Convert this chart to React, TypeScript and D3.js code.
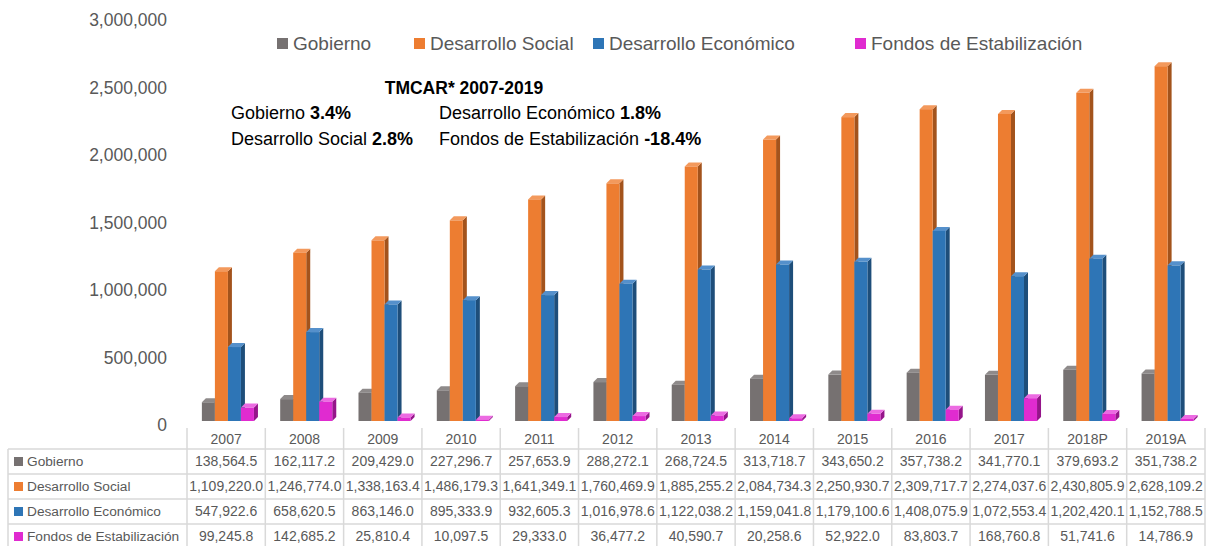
import React from "react";
import * as d3 from "d3";

const categories = ["2007","2008","2009","2010","2011","2012","2013","2014","2015","2016","2017","2018P","2019A"];
const seriesNames = ["Gobierno","Desarrollo Social","Desarrollo Económico","Fondos de Estabilización"];
const gobierno = [138564.5,162117.2,209429.0,227296.7,257653.9,288272.1,268724.5,313718.7,343650.2,357738.2,341770.1,379693.2,351738.2];
const desarrolloSocial = [1109220.0,1246774.0,1338163.4,1486179.3,1641349.1,1760469.9,1885255.2,2084734.3,2250930.7,2309717.7,2274037.6,2430805.9,2628109.2];
const desarrolloEconomico = [547922.6,658620.5,863146.0,895333.9,932605.3,1016978.6,1122038.2,1159041.8,1179100.6,1408075.9,1072553.4,1202420.1,1152788.5];
const fondos = [99245.8,142685.2,25810.4,10097.5,29333.0,36477.2,40590.7,20258.6,52922.0,83803.7,168760.8,51741.6,14786.9];
const yTicks = [0,500000,1000000,1500000,2000000,2500000,3000000];
const growthLabels = ["3.4%","2.8%","1.8%","-18.4%"];

const front = ["#767171","#ED7D31","#2E75B6","#E02BD0"];
const side = ["#4F4B4B","#A3531C","#1E4E7A","#95158A"];
const top = ["#8E8A8A","#F3995C","#5590CB","#EC6BE2"];

const W = 1207, H = 546;
const FONT = "'Liberation Sans', Arial, sans-serif";
const TXT = "#595959";
const GRID = "#D9D9D9";

export default function App() {
  const allSeries = [gobierno, desarrolloSocial, desarrolloEconomico, fondos];
  const x = d3.scaleBand<string>().domain(categories).range([187, 1205]).padding(0);
  const bw = x.bandwidth();
  const xs = d3.scaleBand<number>().domain([0,1,2,3]).range([bw * 0.19, bw * 0.855]).padding(0);
  const y = d3.scaleLinear().domain([0, 3000000]).range([425, 20]);
  const dx = 4, dy = 4;
  const fmtAxis = d3.format(",");
  const fmtVal = d3.format(",.1f");

  const rowTop = 449, rowH = 25;
  const tableLeft = 8, tableRight = 1205;

  const bars: React.ReactNode[] = [];
  categories.forEach((c, ci) => {
    allSeries.forEach((s, si) => {
      const v = s[ci];
      const x0 = (x(c) as number) + (xs(si) as number);
      const w = xs.bandwidth();
      const base = y(0) - dy;
      const yt = y(v) - dy;
      bars.push(
        <g key={c + si}>
          <polygon points={`${x0 + w},${yt} ${x0 + w + dx},${yt - dy} ${x0 + w + dx},${base - dy} ${x0 + w},${base}`} fill={side[si]} />
          <polygon points={`${x0},${yt} ${x0 + dx},${yt - dy} ${x0 + w + dx},${yt - dy} ${x0 + w},${yt}`} fill={top[si]} />
          <rect x={x0} y={yt} width={w} height={Math.max(0, base - yt)} fill={front[si]} />
        </g>
      );
    });
  });

  const legendItems = [
    { name: seriesNames[0], x: 277 },
    { name: seriesNames[1], x: 414 },
    { name: seriesNames[2], x: 593 },
    { name: seriesNames[3], x: 855 },
  ];

  return (
    <svg width={W} height={H} style={{ position: "absolute", left: 0, top: 0, background: "#fff" }} fontFamily={FONT}>
      {/* y axis labels */}
      {yTicks.map((t) => (
        <text key={t} x={167} y={y(t)} dy="0.35em" textAnchor="end" fontSize={17.5} fill={TXT}>
          {fmtAxis(t)}
        </text>
      ))}

      {/* legend */}
      {legendItems.map((li, i) => (
        <g key={li.name}>
          <rect x={li.x} y={38} width={11} height={11} fill={front[i]} />
          <text x={li.x + 16} y={43.5} dy="0.35em" fontSize={19} fill={TXT}>{li.name}</text>
        </g>
      ))}

      {/* annotation */}
      <text x={464} y={88} dy="0.35em" textAnchor="middle" fontSize={17.5} fontWeight="bold" fill="#000">TMCAR* 2007-2019</text>
      <text x={231} y={113} dy="0.35em" fontSize={18} fill="#000">
        Gobierno <tspan fontWeight="bold">{growthLabels[0]}</tspan>
      </text>
      <text x={231} y={139} dy="0.35em" fontSize={18} fill="#000">
        Desarrollo Social <tspan fontWeight="bold">{growthLabels[1]}</tspan>
      </text>
      <text x={439} y={113} dy="0.35em" fontSize={18} fill="#000">
        Desarrollo Económico <tspan fontWeight="bold">{growthLabels[2]}</tspan>
      </text>
      <text x={439} y={139} dy="0.35em" fontSize={18} fill="#000">
        Fondos de Estabilización <tspan fontWeight="bold">{growthLabels[3]}</tspan>
      </text>

      {/* bars */}
      {bars}

      {/* table grid */}
      {categories.map((c) => (
        <line key={"v" + c} x1={x(c) as number} x2={x(c) as number} y1={428} y2={rowTop + rowH * 4} stroke={GRID} strokeWidth={1.5} />
      ))}
      <line x1={tableRight} x2={tableRight} y1={428} y2={rowTop + rowH * 4} stroke={GRID} strokeWidth={1.5} />
      <line x1={tableLeft} x2={tableLeft} y1={rowTop} y2={rowTop + rowH * 4} stroke={GRID} strokeWidth={1.5} />
      {[0, 1, 2, 3, 4].map((r) => (
        <line key={"h" + r} x1={tableLeft} x2={tableRight} y1={rowTop + r * rowH} y2={rowTop + r * rowH} stroke={GRID} strokeWidth={1.5} />
      ))}

      {/* header */}
      {categories.map((c) => (
        <text key={"hd" + c} x={(x(c) as number) + bw / 2} y={439} dy="0.35em" textAnchor="middle" fontSize={14} fill={TXT}>{c}</text>
      ))}

      {/* rows */}
      {allSeries.map((s, si) => {
        const cy = rowTop + si * rowH + rowH / 2;
        return (
          <g key={"row" + si}>
            <rect x={14} y={cy - 4.5} width={9} height={9} fill={front[si]} />
            <text x={27} y={cy} dy="0.35em" fontSize={13.7} fill={TXT}>{seriesNames[si]}</text>
            {categories.map((c, ci) => (
              <text key={c} x={(x(c) as number) + bw / 2} y={cy} dy="0.35em" textAnchor="middle" fontSize={14} fill={TXT}>
                {fmtVal(s[ci])}
              </text>
            ))}
          </g>
        );
      })}
    </svg>
  );
}
